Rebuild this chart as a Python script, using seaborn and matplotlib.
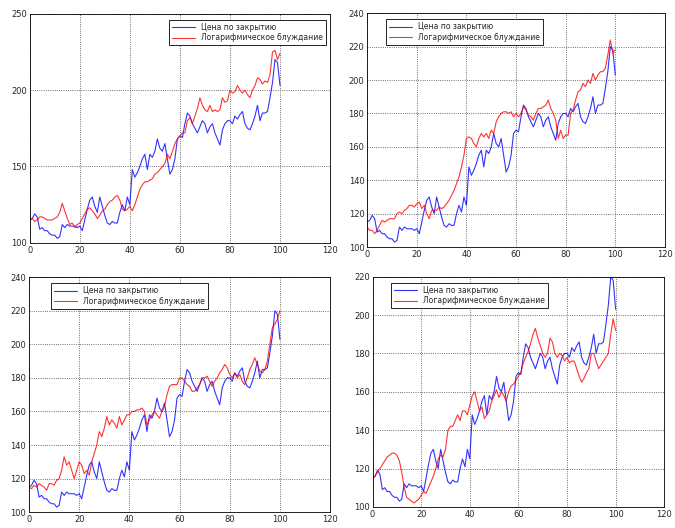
import numpy as np
import pandas as pd
import seaborn as sns
import matplotlib.pyplot as plt

# days 0..100
days = np.arange(101)

# closing price (same in all four panels)
close = [115, 116, 119, 117, 109, 110, 108, 108, 106, 105,
         105, 103, 104, 112, 110, 112, 111, 111, 111, 110,
         111, 108, 115, 122, 128, 130, 124, 120, 130, 124,
         118, 113, 112, 114, 113, 113, 120, 125, 121, 130,
         125, 148, 143, 146, 150, 155, 158, 148, 158, 156,
         160, 168, 162, 160, 165, 155, 145, 148, 155, 168,
         170, 169, 178, 185, 183, 178, 175, 172, 176, 180,
         178, 172, 176, 178, 172, 168, 164, 174, 178, 180,
         180, 178, 183, 181, 184, 186, 178, 175, 174, 178,
         183, 190, 180, 185, 185, 186, 195, 205, 220, 218,
         203]

# log random walk, one run per panel
walk1 = [115, 116, 114, 115, 117, 117, 116, 115, 115, 115,
         116, 117, 120, 126, 121, 116, 112, 113, 110, 112,
         113, 116, 119, 122, 123, 121, 119, 116, 118, 121,
         122, 125, 127, 128, 130, 131, 128, 122, 121, 122,
         124, 121, 125, 130, 135, 138, 140, 140, 141, 142,
         145, 146, 148, 150, 152, 158, 155, 160, 165, 168,
         170, 172, 172, 180, 182, 178, 183, 188, 195, 190,
         187, 186, 190, 186, 187, 186, 187, 195, 192, 193,
         200, 198, 199, 203, 200, 198, 200, 197, 195, 200,
         203, 208, 207, 204, 206, 205, 210, 225, 226, 220,
         224]

walk2 = [112, 110, 110, 108, 110, 113, 116, 115, 116, 117,
         117, 117, 120, 121, 120, 122, 123, 125, 125, 124,
         126, 127, 123, 125, 120, 117, 122, 122, 122, 124,
         123, 124, 126, 128, 131, 134, 138, 142, 148, 155,
         165, 166, 165, 162, 160, 165, 168, 166, 168, 165,
         170, 168, 175, 178, 180, 181, 181, 180, 181, 178,
         180, 178, 180, 184, 182, 179, 178, 176, 180, 183,
         183, 184, 185, 188, 183, 180, 176, 165, 170, 165,
         167, 167, 180, 182, 188, 193, 194, 198, 196, 200,
         198, 204, 200, 203, 205, 205, 207, 215, 224, 216,
         218]

walk3 = [115, 114, 116, 115, 117, 116, 115, 113, 117, 117,
         116, 119, 120, 125, 133, 128, 130, 125, 120, 125,
         130, 128, 123, 125, 122, 130, 135, 140, 148, 145,
         150, 157, 152, 155, 153, 150, 157, 152, 155, 158,
         158, 160, 160, 161, 161, 162, 160, 152, 155, 158,
         160, 158, 156, 160, 163, 170, 175, 176, 176, 176,
         180, 180, 178, 176, 175, 172, 172, 174, 176, 180,
         180, 181, 178, 175, 178, 180, 183, 185, 188, 186,
         182, 180, 183, 180, 182, 178, 176, 180, 185, 188,
         192, 188, 184, 183, 185, 190, 200, 210, 212, 215,
         220]

walk4 = [115, 116, 118, 120, 122, 124, 126, 127, 128, 128,
         127, 124, 118, 110, 105, 104, 103, 102, 103, 104,
         106, 108, 107, 110, 113, 116, 120, 125, 127, 126,
         130, 140, 142, 142, 145, 148, 145, 150, 150, 148,
         153, 158, 160, 155, 150, 152, 146, 148, 150, 155,
         158, 161, 157, 160, 158, 155, 160, 163, 164, 166,
         168, 170, 175, 178, 181, 185, 190, 193, 188, 184,
         180, 178, 180, 188, 186, 180, 178, 180, 179, 176,
         178, 175, 176, 176, 172, 168, 165, 167, 170, 172,
         180, 180, 176, 172, 174, 176, 178, 180, 190, 198,
         192]

walks = [walk1, walk2, walk3, walk4]
yticks = [[100, 150, 200, 250],
          list(range(100, 241, 20)),
          list(range(100, 241, 20)),
          list(range(100, 221, 20))]
legend_loc = ['upper right', 'upper left', 'upper left', 'upper left']
legend_anchor = [(1.0, 0.99), (0.05, 0.99), (0.06, 0.99), (0.05, 0.99)]
label_close = 'Цена по закрытию'
label_walk = 'Логарифмическое блуждание'

sns.set_style('white')
plt.rcParams['font.family'] = ['DejaVu Sans']

fig = plt.figure(figsize=(6.75, 5.28), dpi=100)
boxes = [[0.044, 0.540, 0.445, 0.434],
         [0.544, 0.532, 0.441, 0.443],
         [0.043, 0.030, 0.446, 0.445],
         [0.552, 0.040, 0.432, 0.436]]

for i in range(4):
    ax = fig.add_axes(boxes[i])
    df = pd.DataFrame({'day': days, 'close': close, 'walk': walks[i]})
    sns.lineplot(data=df, x='day', y='close', color='blue', lw=0.8, alpha=0.8, ax=ax, label=label_close)
    sns.lineplot(data=df, x='day', y='walk', color='red', lw=0.8, alpha=0.8, ax=ax, label=label_walk)
    ax.set_xlim(0, 120)
    ax.set_ylim(yticks[i][0], yticks[i][-1])
    ax.set_xticks(range(0, 121, 20))
    ax.set_yticks(yticks[i])
    ax.set_xlabel('')
    ax.set_ylabel('')
    ax.grid(True, color='#444444', linestyle=':', linewidth=0.6)
    ax.tick_params(direction='in', labelsize=6, length=3, pad=2)
    for s in ax.spines.values():
        s.set_color('black')
        s.set_linewidth(0.6)
    leg = ax.legend(loc=legend_loc[i], bbox_to_anchor=legend_anchor[i], fontsize=5.5,
                    fancybox=False, framealpha=1, edgecolor='black', handlelength=3,
                    borderpad=0.4, labelspacing=0.2)
    leg.get_frame().set_linewidth(0.6)

plt.savefig('out.png', dpi=100)
